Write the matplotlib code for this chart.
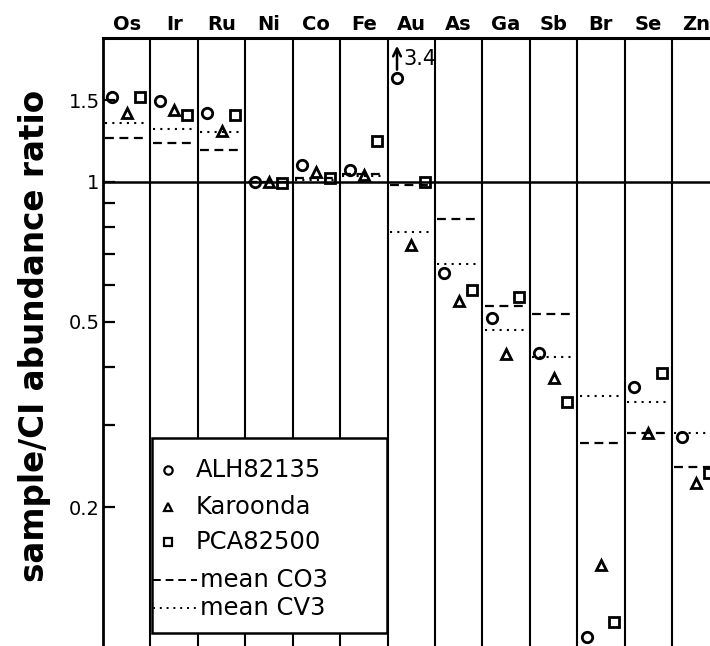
import numpy as np
import matplotlib.pyplot as plt
from matplotlib.patches import Rectangle
from matplotlib.lines import Line2D
from matplotlib.ticker import FixedLocator, NullFormatter

# element columns, left to right
elements = ['Os', 'Ir', 'Ru', 'Ni', 'Co', 'Fe', 'Au', 'As', 'Ga', 'Sb', 'Br', 'Se', 'Zn']

# sample/CI abundance ratios
# (ALH82135 Au is off scale at 3.4, drawn at the top of the panel with an arrow)
alh82135 = [1.52, 1.49, 1.41, 1.00, 1.09, 1.06, 1.67, 0.637, 0.51, 0.429, 0.105, 0.362, 0.283]
karoonda = [1.41, 1.43, 1.29, 1.00, 1.05, 1.035, 0.732, 0.555, 0.427, 0.379, 0.150, 0.289, 0.225]
pca82500 = [1.52, 1.39, 1.39, 0.995, 1.02, 1.225, 1.00, 0.586, 0.566, 0.336, 0.113, 0.388, 0.237]
mean_co3 = [1.243, 1.213, 1.172, 1.0, 1.02, 1.04, 0.985, 0.833, 0.541, 0.52, 0.275, 0.289, 0.244]
mean_cv3 = [1.34, 1.30, 1.28, 1.0, 1.01, 1.03, 0.78, 0.666, 0.48, 0.42, 0.346, 0.336, 0.289]
au_alh_true = '3.4'

ytick_vals = [0.2, 0.5, 1, 1.5]
ytick_labels = ['0.2', '0.5', '1', '1.5']
yminor_vals = [0.3, 0.4, 0.6, 0.7, 0.8, 0.9]

plt.rcParams['font.family'] = ['DejaVu Sans']

fig = plt.figure(figsize=(7.1, 6.46), dpi=100)
ax = fig.add_axes([103 / 710, 0.0, 607 / 710, 608 / 646])
ax.set_yscale('log')
ax.set_xlim(0, 12.8)
ax.set_ylim(0.1005, 2.04)

x = np.arange(len(elements))

# column separators and unity line
for i in range(1, len(elements)):
    ax.axvline(i, color='k', lw=1.5, zorder=1)
ax.axhline(1.0, color='k', lw=1.8, zorder=2)

# group means
dash_ls = (0, (4, 2.5))
dot_ls = (0, (1, 2.5))
ax.hlines(mean_co3, x + 0.05, x + 0.95, colors='k', linestyles=dash_ls, lw=1.6, zorder=3)
ax.hlines(mean_cv3, x + 0.05, x + 0.95, colors='k', linestyles=dot_ls, lw=1.5, zorder=3)

# samples
mk = dict(linestyle='none', mfc='none', mec='k', mew=2.0, zorder=4)
ax.plot(x + 0.2, alh82135, marker='o', ms=7.5, **mk)
ax.plot(x + 0.5, karoonda, marker='^', ms=7.5, **mk)
ax.plot(x + 0.78, pca82500, marker='s', ms=7, **mk)

# off-scale Au value
iau = elements.index('Au')
ax.annotate('', xy=(iau + 0.2, 1.99), xytext=(iau + 0.2, 1.72),
            arrowprops=dict(arrowstyle='->', color='k', lw=1.8, mutation_scale=14))
ax.text(iau + 0.34, 1.84, au_alh_true, fontsize=15, va='center', ha='left')

# axes styling
for s in ['right', 'bottom']:
    ax.spines[s].set_visible(False)
ax.spines['top'].set_linewidth(2.2)
ax.spines['left'].set_linewidth(2.0)

ax.xaxis.tick_top()
ax.set_xticks(x + 0.5, elements)
ax.tick_params(axis='x', length=0, pad=3, labelsize=14)
for lbl in ax.get_xticklabels():
    lbl.set_fontweight('bold')

ax.yaxis.set_major_locator(FixedLocator(ytick_vals))
ax.set_yticklabels(ytick_labels)
ax.yaxis.set_minor_locator(FixedLocator(yminor_vals))
ax.yaxis.set_minor_formatter(NullFormatter())
ax.tick_params(axis='y', which='both', direction='in', length=8.5, width=1.6,
               pad=2.5, labelsize=14)

ax.set_ylabel('sample/CI abundance ratio', fontsize=23.5, fontweight='bold')
ax.yaxis.set_label_coords(-0.0857, 0.51)

# legend box drawn by hand
ax.add_patch(Rectangle((0.0807, 0.0214), 0.3871, 0.3207, transform=ax.transAxes,
                       fc='white', ec='k', lw=1.8, zorder=5))
entries = [
    ('o', 'ALH82135', 0.290),
    ('^', 'Karoonda', 0.228),
    ('s', 'PCA82500', 0.171),
]
for m, lab, fy in entries:
    ax.add_artist(Line2D([0.107], [fy], transform=ax.transAxes, marker=m, ms=6,
                         mfc='none', mec='k', mew=1.6, linestyle='none', zorder=6))
    ax.text(0.153, fy, lab, transform=ax.transAxes, fontsize=17.5, va='center', ha='left', zorder=6)
for ls, lab, fy in [(dash_ls, 'mean CO3', 0.1086), (dot_ls, 'mean CV3', 0.0625)]:
    ax.add_artist(Line2D([0.083, 0.155], [fy, fy], transform=ax.transAxes, color='k',
                         lw=1.4, linestyle=ls, zorder=6))
    ax.text(0.160, fy, lab, transform=ax.transAxes, fontsize=17.5, va='center', ha='left', zorder=6)

fig.savefig('out.png', dpi=100)
